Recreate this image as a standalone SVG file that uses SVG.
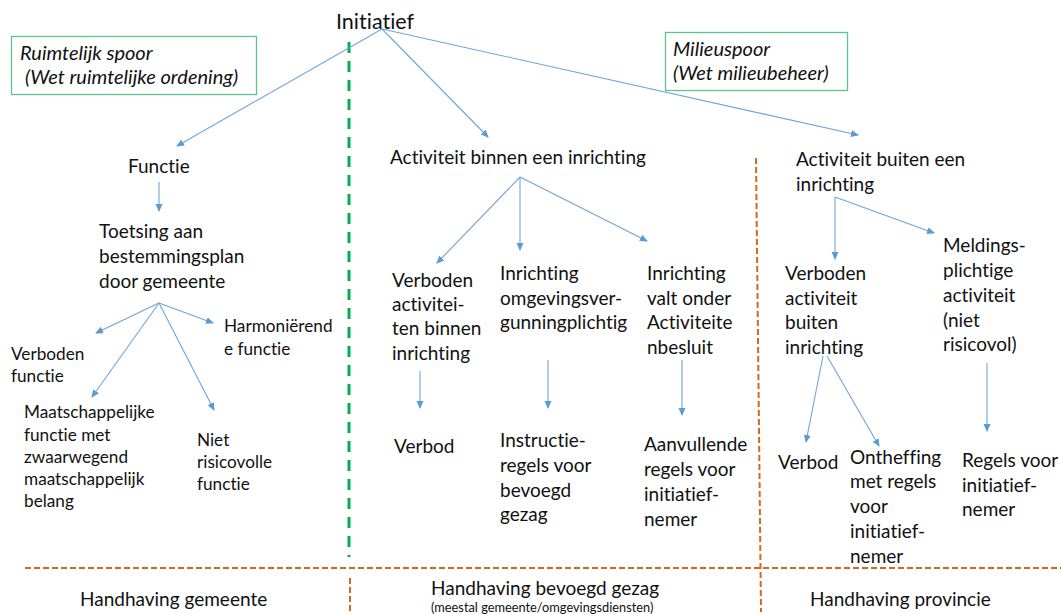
<svg xmlns="http://www.w3.org/2000/svg" width="1061" height="614" viewBox="0 0 1061 614">
<style>
text{font-family:Lato,"Liberation Sans",sans-serif;fill:#111;font-size:19px;font-variant-ligatures:none;font-feature-settings:"liga" 0}
.sm{font-size:17.2px}
.it{font-style:italic;font-size:20px}
.xs{font-size:12.8px}
.big{font-size:21.5px}
.c{stroke:#6FA5DA;stroke-width:1.1;fill:none;marker-end:url(#ah)}
.box{fill:none;stroke:#5CC68A;stroke-width:1.3}
.od{stroke:#D2691E;stroke-width:2;stroke-dasharray:6 3;fill:none}
</style>
<defs>
<marker id="ah" markerWidth="8" markerHeight="8" refX="7" refY="4" orient="auto" markerUnits="userSpaceOnUse">
<path d="M0,0.5 L8,4 L0,7.5 Z" fill="#5B9BD5"/>
</marker>
</defs>
<rect width="1061" height="614" fill="#fff"/>
<g id="dividers">
<line x1="349" y1="42" x2="349" y2="557" stroke="#00B050" stroke-width="3" stroke-dasharray="11 8"/>
<line class="od" x1="25" y1="568" x2="1061" y2="568"/>
<line class="od" x1="756" y1="158" x2="761" y2="612"/>
<line class="od" x1="350" y1="578" x2="350" y2="614"/>
</g>
<g id="connectors">
<line class="c" x1="382" y1="29" x2="177" y2="146"/>
<line class="c" x1="382" y1="29" x2="488" y2="137"/>
<line class="c" x1="382" y1="29" x2="858" y2="135"/>
<line class="c" x1="159" y1="182" x2="159" y2="211"/>
<line class="c" x1="159" y1="303" x2="96" y2="333"/>
<line class="c" x1="159" y1="303" x2="213" y2="323"/>
<line class="c" x1="159" y1="303" x2="92" y2="397"/>
<line class="c" x1="159" y1="303" x2="214" y2="410"/>
<line class="c" x1="520" y1="177" x2="437" y2="263"/>
<line class="c" x1="520" y1="177" x2="520" y2="250"/>
<line class="c" x1="520" y1="177" x2="647" y2="241"/>
<line class="c" x1="420" y1="371" x2="420" y2="408"/>
<line class="c" x1="548" y1="360" x2="548" y2="408"/>
<line class="c" x1="682" y1="360" x2="682" y2="415"/>
<line class="c" x1="835" y1="197" x2="835" y2="259"/>
<line class="c" x1="835" y1="197" x2="934" y2="233"/>
<line class="c" x1="823" y1="356" x2="806" y2="442"/>
<line class="c" x1="827" y1="356" x2="879" y2="446"/>
<line class="c" x1="987" y1="363" x2="987" y2="431"/>
</g>
<g id="initiatief"><text class="big" x="336" y="29">Initiatief</text></g>
<g id="ruimtelijk"><rect class="box" x="11.5" y="36.5" width="245" height="58"/>
<text class="it" x="20" y="60">Ruimtelijk spoor</text><text class="it" x="25" y="84">(Wet ruimtelijke ordening)</text></g>
<g id="milieu"><rect class="box" x="665.5" y="32.5" width="182" height="58"/>
<text class="it" x="673" y="56">Milieuspoor</text><text class="it" x="673" y="80">(Wet milieubeheer)</text></g>
<g id="functie"><text x="128" y="173">Functie</text></g>
<g id="toetsing"><text x="99"><tspan x="99" y="238">Toetsing aan</tspan><tspan x="99" y="263">bestemmingsplan</tspan><tspan x="99" y="288">door gemeente</tspan></text></g>
<g id="verboden-functie"><text class="sm"><tspan x="11" y="360">Verboden</tspan><tspan x="11" y="382">functie</tspan></text></g>
<g id="harmonierend"><text class="sm"><tspan x="224" y="332">Harmoniërend</tspan><tspan x="224" y="355">e functie</tspan></text></g>
<g id="maatschappelijk"><text class="sm"><tspan x="24" y="418">Maatschappelijke</tspan><tspan x="24" y="441">functie met</tspan><tspan x="24" y="463">zwaarwegend</tspan><tspan x="24" y="485">maatschappelijk</tspan><tspan x="24" y="507">belang</tspan></text></g>
<g id="niet-risicovol"><text class="sm"><tspan x="197" y="446">Niet</tspan><tspan x="197" y="468">risicovolle</tspan><tspan x="197" y="490">functie</tspan></text></g>
<g id="binnen"><text x="390" y="164">Activiteit binnen een inrichting</text></g>
<g id="verboden-binnen"><text><tspan x="392" y="287">Verboden</tspan><tspan x="392" y="311">activitei-</tspan><tspan x="392" y="335">ten binnen</tspan><tspan x="392" y="360">inrichting</tspan></text></g>
<g id="omgevingsvergunning"><text><tspan x="500" y="280">Inrichting</tspan><tspan x="500" y="305">omgevingsver-</tspan><tspan x="500" y="329">gunningplichtig</tspan></text></g>
<g id="activiteitenbesluit"><text><tspan x="647" y="280">Inrichting</tspan><tspan x="647" y="305">valt onder</tspan><tspan x="647" y="329">Activiteite</tspan><tspan x="647" y="354">nbesluit</tspan></text></g>
<g id="verbod1"><text x="394" y="453">Verbod</text></g>
<g id="instructieregels"><text><tspan x="500" y="447">Instructie-</tspan><tspan x="500" y="472">regels voor</tspan><tspan x="500" y="497">bevoegd</tspan><tspan x="500" y="521">gezag</tspan></text></g>
<g id="aanvullende"><text><tspan x="644" y="451">Aanvullende</tspan><tspan x="644" y="476">regels voor</tspan><tspan x="644" y="501">initiatief-</tspan><tspan x="644" y="526">nemer</tspan></text></g>
<g id="buiten"><text><tspan x="796" y="166">Activiteit buiten een</tspan><tspan x="796" y="191">inrichting</tspan></text></g>
<g id="verboden-buiten"><text><tspan x="785" y="280">Verboden</tspan><tspan x="785" y="305">activiteit</tspan><tspan x="785" y="329">buiten</tspan><tspan x="785" y="354">inrichting</tspan></text></g>
<g id="meldingsplichtig"><text><tspan x="943" y="252">Meldings-</tspan><tspan x="943" y="277">plichtige</tspan><tspan x="943" y="302">activiteit</tspan><tspan x="943" y="327">(niet</tspan><tspan x="943" y="351">risicovol)</tspan></text></g>
<g id="verbod2"><text x="778" y="469">Verbod</text></g>
<g id="ontheffing"><text><tspan x="850" y="464">Ontheffing</tspan><tspan x="850" y="488">met regels</tspan><tspan x="850" y="513">voor</tspan><tspan x="850" y="538">initiatief-</tspan><tspan x="850" y="563">nemer</tspan></text></g>
<g id="regels-voor"><text><tspan x="962" y="467">Regels voor</tspan><tspan x="962" y="492">initiatief-</tspan><tspan x="962" y="516">nemer</tspan></text></g>
<g id="handhaving-gemeente"><text x="80" y="606">Handhaving gemeente</text></g>
<g id="handhaving-bevoegd"><text x="431" y="595">Handhaving bevoegd gezag</text><text class="xs" x="431" y="612">(meestal gemeente/omgevingsdiensten)</text></g>
<g id="handhaving-provincie"><text x="810" y="606">Handhaving provincie</text></g>
</svg>
